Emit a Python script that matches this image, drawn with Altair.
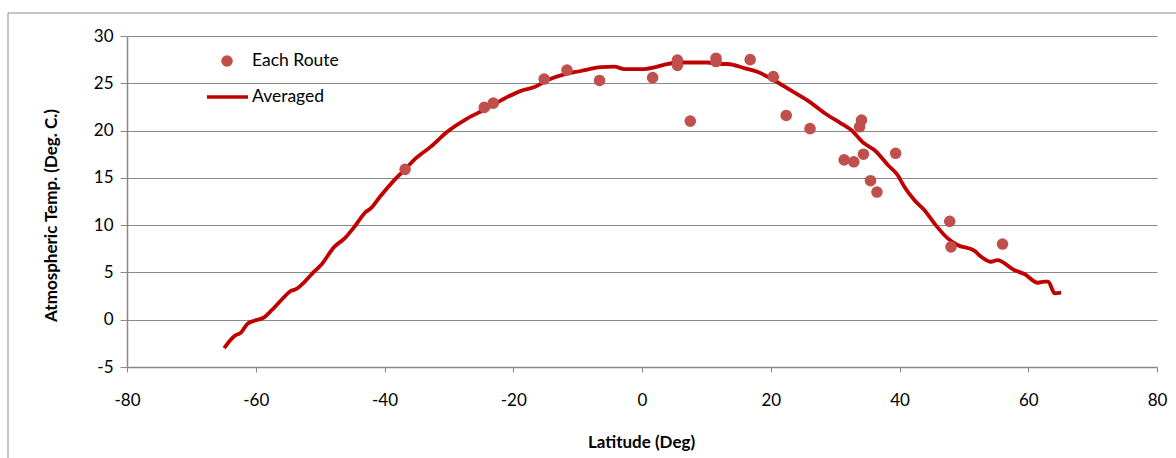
import altair as alt
import pandas as pd

# Individual route observations
route_lat = [-36.8, -24.5, -23.1, -15.2, -11.65, -6.6, 1.65, 5.5, 5.5, 7.5,
             11.5, 11.5, 16.8, 20.4, 22.4, 26.1, 34.1, 33.8, 31.4, 32.9,
             34.4, 39.4, 35.5, 36.5, 47.8, 48.0, 56.0]
route_temp = [15.9, 22.45, 22.9, 25.45, 26.4, 25.3, 25.6, 27.45, 26.9, 21.0,
              27.65, 27.3, 27.5, 25.7, 21.6, 20.2, 21.1, 20.4, 16.9, 16.7,
              17.5, 17.6, 14.7, 13.5, 10.4, 7.7, 8.0]

# Averaged curve
avg_lat = [-64.9, -63.3, -62.3, -61.3, -60.2, -58.7, -57.6, -55.6, -54.5, -54.0,
           -50.9, -49.9, -47.8, -46.2, -44.7, -42.9, -42.1, -40.7, -38.0, -36.8,
           -35.4, -32.8, -30.2, -27.1, -24.5, -21.9, -18.8, -16.7, -14.65, -12.1,
           -9.5, -6.4, -4.3, -2.75, 0.35, 2.4, 3.5, 6.1, 10.2, 11.75,
           13.3, 15.9, 18.0, 20.3, 23.0, 25.7, 28.8, 30.9, 32.5, 34.5,
           36.1, 38.2, 39.7, 40.75, 42.3, 43.85, 45.4, 47.5, 49.0, 51.6,
           52.7, 54.2, 55.2, 57.8, 59.4, 61.5, 62.5, 63.1, 64.1, 65.1]
avg_temp = [-3.0, -1.72, -1.37, -0.45, -0.1, 0.25, 0.95, 2.4, 3.07, 3.15,
            5.1, 5.75, 7.7, 8.6, 9.8, 11.4, 11.8, 13.0, 15.1, 15.9,
            16.9, 18.3, 19.9, 21.3, 22.2, 23.2, 24.2, 24.6, 25.35, 25.95,
            26.3, 26.7, 26.76, 26.5, 26.5, 26.76, 26.97, 27.2, 27.2, 27.04,
            27.04, 26.6, 26.2, 25.4, 24.3, 23.2, 21.65, 20.77, 20.06, 18.65,
            17.95, 16.36, 15.3, 14.07, 12.66, 11.6, 10.2, 8.6, 7.9, 7.3,
            6.66, 6.13, 6.3, 5.26, 4.83, 3.91, 4.02, 4.02, 2.8, 2.86]

x_ticks = [-80, -60, -40, -20, 0, 20, 40, 60, 80]
y_ticks = [-5, 0, 5, 10, 15, 20, 25, 30]

FONT = "Lato"
GRAY = "#898989"
POINT_COLOR = "#C0504D"
LINE_COLOR = "#C00000"

routes = pd.DataFrame({"lat": route_lat, "temp": route_temp})
avg = pd.DataFrame({"lat": avg_lat, "temp": avg_temp})

x_scale = alt.Scale(domain=[-80, 80], nice=False, zero=False)
y_scale = alt.Scale(domain=[-5, 30], nice=False, zero=False)

x_enc = alt.X("lat:Q", scale=x_scale,
              axis=alt.Axis(title="Latitude (Deg)", values=x_ticks, grid=False,
                            tickSize=5, labelPadding=28, labelBaseline="middle",
                            labelFlush=False, labelOverlap=False,
                            labelExpr="'' + datum.value",
                            titleX=514, titleY=75, titleBaseline="middle"))
y_enc = alt.Y("temp:Q", scale=y_scale,
              axis=alt.Axis(title="Atmospheric Temp. (Deg. C.)", values=y_ticks,
                            grid=True, tickSize=7, labelPadding=7,
                            labelFlush=False, labelOverlap=False,
                            labelExpr="'' + datum.value",
                            titleX=-76, titleY=179, titleAlign="center",
                            titleBaseline="middle", titleAngle=-90))

line = alt.Chart(avg).mark_line(color=LINE_COLOR, strokeWidth=3.8,
                                interpolate="monotone").encode(
    x=x_enc, y=y_enc, order="lat:Q")

points = alt.Chart(routes).mark_circle(color=POINT_COLOR, size=135, opacity=1).encode(
    x="lat:Q", y="temp:Q")

blank = alt.Data(values=[{}])
frame = alt.Chart(blank).mark_rect(fill=None, stroke=GRAY, strokeWidth=1).encode(
    x=alt.value(-119), x2=alt.value(1200), y=alt.value(-23), y2=alt.value(600))

leg_pt = alt.Chart(blank).mark_circle(color=POINT_COLOR, size=135, opacity=1).encode(
    x=alt.value(100), y=alt.value(25))
leg_pt_txt = alt.Chart(blank).mark_text(align="left", baseline="middle", font=FONT,
                                        fontSize=17.5, color="#000000").encode(
    x=alt.value(125), y=alt.value(25), text=alt.value("Each Route"))
leg_ln = alt.Chart(blank).mark_rule(color=LINE_COLOR, strokeWidth=3.5).encode(
    x=alt.value(80), x2=alt.value(121), y=alt.value(61))
leg_ln_txt = alt.Chart(blank).mark_text(align="left", baseline="middle", font=FONT,
                                        fontSize=17.5, color="#000000").encode(
    x=alt.value(125), y=alt.value(61), text=alt.value("Averaged"))

chart = alt.layer(frame, line, points, leg_pt, leg_pt_txt, leg_ln, leg_ln_txt).properties(
    width=1030, height=331,
    autosize=alt.AutoSizeParams(type="none"),
    padding={"left": 127, "top": 36, "right": 19, "bottom": 91},
    background="white",
).configure_view(stroke=None).configure_axis(
    domainColor=GRAY, tickColor=GRAY, gridColor=GRAY, domainWidth=1.5,
    labelFont=FONT, labelFontSize=17, labelColor="#000000",
    titleFont=FONT, titleFontSize=17, titleFontWeight="bold", titleColor="#000000",
)

chart.save("out.html", embed_options={"renderer": "svg", "actions": False})
